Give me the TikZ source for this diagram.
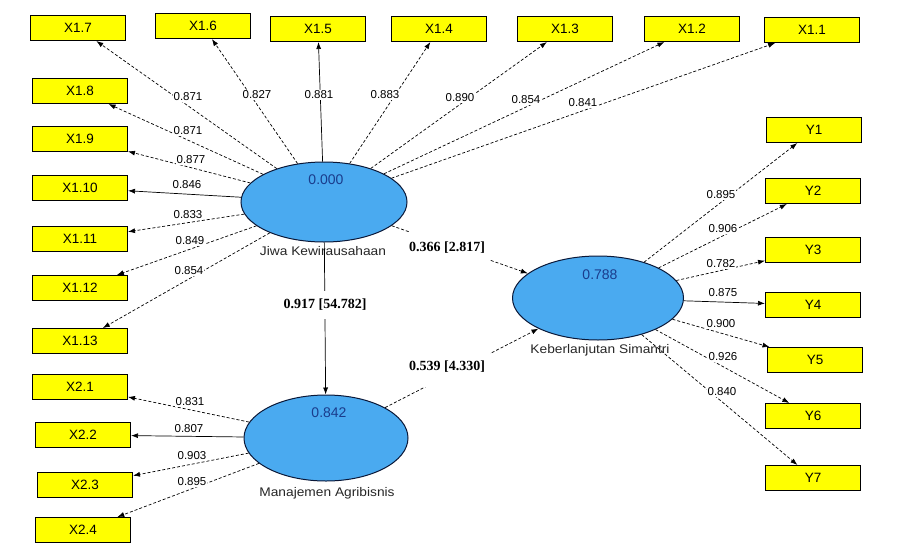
\documentclass[tikz,border=0pt]{standalone}
\usepackage{fontspec}
\setmainfont{Liberation Sans}
\newfontfamily\serifb{Liberation Serif}
\usetikzlibrary{arrows.meta,shapes.geometric}
\definecolor{lblue}{HTML}{4AAAF0}
\definecolor{vblue}{HTML}{1A3C8C}
\definecolor{byel}{HTML}{FFFF00}
\begin{document}
\begin{tikzpicture}[x=1pt,y=-1pt,
  ind/.style={draw=black,line width=1pt,fill=byel,minimum width=95pt,minimum height=25pt,inner sep=0pt,font=\fontsize{13.5}{13.5}\selectfont},
  lat/.style={ellipse,draw=black!60!vblue,line width=1pt,fill=lblue,inner sep=0pt},
  ld/.style={-{Latex[length=7pt,width=5pt]},line width=0.7pt,dash pattern=on 3pt off 2pt},
  lds/.style={-{Latex[length=7pt,width=5pt]},line width=0.7pt},
  lab/.style={font=\fontsize{11.5}{11.5}\selectfont,fill=white,inner sep=0.5pt},
  val/.style={font=\fontsize{14}{14}\selectfont,text=vblue},
  nm/.style={font=\fontsize{12.5}{12.5}\selectfont,text=black!85,xscale=1.1},
  pl/.style={font=\serifb\bfseries\fontsize{14}{14}\selectfont,fill=white,inner xsep=5pt}]
\useasboundingbox (0,0) rectangle (900,552);
% latent variables
\node[lat,minimum width=166pt,minimum height=80pt] (jiwa) at (324,202) {};
\node[lat,minimum width=171pt,minimum height=84pt] (keb) at (598,298) {};
\node[lat,minimum width=164pt,minimum height=86pt] (man) at (326,438) {};
\node[val] (vj) at (326,180) {0.000};
\node[val] (vk) at (600,275) {0.788};
\node[val] (vm) at (329,413) {0.842};
\node[nm] (nj) at (323,251) {Jiwa Kewirausahaan};
\node[nm] (nk) at (600,350) {Keberlanjutan Simantri};
\node[nm] (nm2) at (327,493) {Manajemen Agribisnis};
% indicators top
\node[ind] (x17) at (78,28) {X1.7};
\node[ind] (x16) at (203,26) {X1.6};
\node[ind] (x15) at (318,29) {X1.5};
\node[ind] (x14) at (439,29) {X1.4};
\node[ind] (x13) at (565,29) {X1.3};
\node[ind] (x12) at (692,29) {X1.2};
\node[ind] (x11) at (812,30) {X1.1};
% indicators left
\node[ind] (x18) at (80,91) {X1.8};
\node[ind] (x19) at (80,139) {X1.9};
\node[ind] (x110) at (80,188) {X1.10};
\node[ind] (x111) at (80,239) {X1.11};
\node[ind] (x112) at (80,288) {X1.12};
\node[ind] (x113) at (80,341) {X1.13};
\node[ind] (x21) at (80,387) {X2.1};
\node[ind] (x22) at (83,435) {X2.2};
\node[ind] (x23) at (85,485) {X2.3};
\node[ind] (x24) at (83,530) {X2.4};
% indicators right
\node[ind] (y1) at (814,130) {Y1};
\node[ind] (y2) at (813,191) {Y2};
\node[ind] (y3) at (813,250) {Y3};
\node[ind] (y4) at (813,305) {Y4};
\node[ind] (y5) at (815,360) {Y5};
\node[ind] (y6) at (813,416) {Y6};
\node[ind] (y7) at (813,478) {Y7};
% loadings
\draw[ld] (jiwa) -- (x17);
\draw[ld] (jiwa) -- (x16);
\draw[lds] (jiwa) -- (x15);
\draw[ld] (jiwa) -- (x14);
\draw[ld] (jiwa) -- (x13);
\draw[ld] (jiwa) -- (x12);
\draw[ld] (jiwa) -- (x11);
\draw[ld] (jiwa) -- (x18);
\draw[ld] (jiwa) -- (x19);
\draw[lds] (jiwa) -- (x110);
\draw[ld] (jiwa) -- (x111);
\draw[ld] (jiwa) -- (x112);
\draw[ld] (jiwa) -- (x113);
\draw[ld] (man) -- (x21);
\draw[lds] (man) -- (x22);
\draw[ld] (man) -- (x23);
\draw[ld] (man) -- (x24);
\draw[ld] (keb) -- (y1);
\draw[ld] (keb) -- (y2);
\draw[ld] (keb) -- (y3);
\draw[lds] (keb) -- (y4);
\draw[ld] (keb) -- (y5);
\draw[ld] (keb) -- (y6);
\draw[ld] (keb) -- (y7);
% structural paths
\draw[lds] (jiwa) -- (man);
\draw[ld] (jiwa) -- (keb);
\draw[ld] (man) -- (keb);
% loading labels
\node[lab] (l17) at (188,97) {0.871};
\node[lab] (l16) at (257,95) {0.827};
\node[lab] (l15) at (319,95) {0.881};
\node[lab] (l14) at (385,95) {0.883};
\node[lab] (l13) at (460,98) {0.890};
\node[lab] (l12) at (526,100) {0.854};
\node[lab] (l11) at (583,103) {0.841};
\node[lab] (l18) at (188,131) {0.871};
\node[lab] (l19) at (191,160) {0.877};
\node[lab] (l110) at (187,185) {0.846};
\node[lab] (l111) at (188,215) {0.833};
\node[lab] (l112) at (190,241) {0.849};
\node[lab] (l113) at (189,271) {0.854};
\node[lab] (l21) at (190,402) {0.831};
\node[lab] (l22) at (189,429) {0.807};
\node[lab] (l23) at (192,456) {0.903};
\node[lab] (l24) at (192,482) {0.895};
\node[lab] (ly1) at (721,195) {0.895};
\node[lab] (ly2) at (723,229) {0.906};
\node[lab] (ly3) at (721,264) {0.782};
\node[lab] (ly4) at (723,293) {0.875};
\node[lab] (ly5) at (721,324) {0.900};
\node[lab] (ly6) at (723,357) {0.926};
\node[lab] (ly7) at (722,392) {0.840};
% path coefficients
\node[pl,inner ysep=10pt] (p1) at (447,248) {0.366 [2.817]};
\node[pl,inner ysep=8pt] (p2) at (325,305) {0.917 [54.782]};
\node[pl,inner ysep=14pt] (p3) at (447,367) {0.539 [4.330]};
\end{tikzpicture}
\end{document}
